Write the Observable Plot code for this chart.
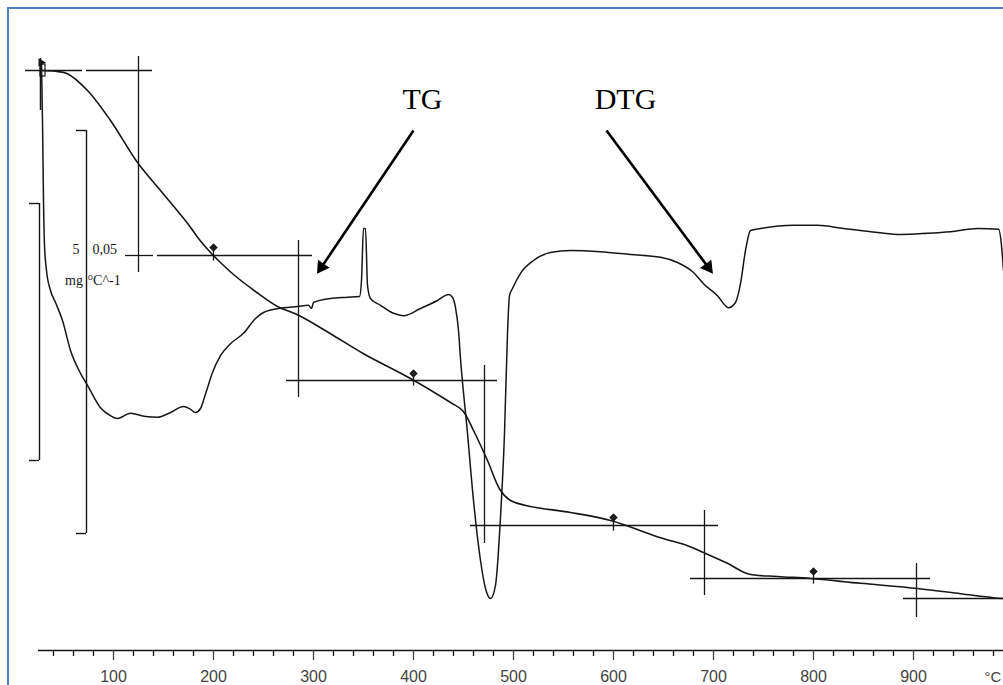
<!DOCTYPE html>
<html>
<head>
<meta charset="utf-8">
<script src="https://cdn.jsdelivr.net/npm/d3@7"></script>
<script src="https://cdn.jsdelivr.net/npm/@observablehq/plot@0.6"></script>
<style>
  body { margin: 0; background: #fff; }
  #wrap { position: relative; width: 1003px; height: 685px; overflow: hidden; background: #fff; }
  #border { position: absolute; left: 7px; top: 7px; width: 1200px; height: 900px;
            border-left: 2px solid #4f81bd; border-top: 2px solid #4f81bd; pointer-events: none; }
</style>
</head>
<body>
<div id="wrap"><div id="border"></div></div>
<script>
// ---- TG curve: temperature (°C) and mass loss (mg) ----
const tgTemp = [29, 42, 54, 74, 97, 124, 147, 174, 185, 197, 209, 220, 242, 264, 285, 317, 350, 397, 437, 449, 460, 474, 487, 497, 517, 557, 597, 647, 674, 690, 714, 734, 764, 797, 847, 904, 947, 980, 990];
const tgLoss = [0, 0.01, 0.04, 0.25, 0.625, 1.15, 1.5, 1.91, 2.1, 2.275, 2.425, 2.55, 2.7625, 2.95, 3.06, 3.29, 3.54, 3.85, 4.15, 4.25, 4.5, 4.875, 5.25, 5.375, 5.45, 5.525, 5.625, 5.84, 5.94, 6.025, 6.16, 6.29, 6.325, 6.35, 6.41, 6.475, 6.54, 6.59, 6.6];

// ---- DTG curve: temperature (°C) and derivative (µg/°C) ----
const dtgTemp = [28, 29, 30, 31, 33, 37, 42, 49, 57, 67, 74, 87, 97, 104, 117, 132, 144, 157, 170, 177, 182, 187, 191, 194, 199, 207, 217, 230, 242, 250, 270, 284, 295, 298, 300, 317, 334, 346, 348, 350, 352, 354, 357, 367, 380, 390, 407, 424, 435, 439, 442, 445, 447, 454, 460, 467, 472, 477, 482, 487, 491, 494, 496, 499, 507, 520, 537, 557, 587, 617, 647, 664, 680, 690, 704, 715, 722, 727, 732, 737, 747, 780, 804, 830, 864, 887, 914, 937, 964, 985, 988, 990];
const dtgRate = [20.5, 13.5, 3.5, -2.1, -5.25, -7.75, -9.25, -11.5, -15.25, -18.1, -19.6, -22.4, -23.4, -23.75, -23.1, -23.5, -23.6, -23, -22.25, -22.6, -23, -22.5, -21.1, -19.9, -18, -15.9, -14.4, -13.1, -11.25, -10.5, -9.9, -9.75, -9.6, -10, -9.25, -8.75, -8.6, -8.5, -6.5, 0, 0, -7.1, -8.75, -9.6, -10.6, -10.9, -10, -9, -8.25, -8.6, -9.9, -12.75, -16.25, -25.6, -34, -41.5, -45, -46.25, -44.6, -36.1, -25.6, -13.1, -8.4, -7.5, -5.6, -4, -3, -2.75, -2.9, -3.25, -3.6, -4.25, -5.5, -6.9, -8.4, -9.9, -9.25, -6.9, -2.75, -0.25, 0, 0.4, 0.4, 0, -0.5, -0.75, -0.6, -0.4, 0, -0.1, -2.1, -5.25];

// ---- step construction lines (mass levels and temperatures) ----
const stepLevel = [0, 0, 2.3125, 2.3125, 3.875, 5.6875, 6.35, 6.6];
const stepFrom  = [12, 73, 112, 144, 273, 457, 677, 890];
const stepTo    = [69, 139, 140, 299, 484, 705, 917, 990];
const vTemp = [125, 285, 471, 691, 903];
const vFrom = [-0.175, 2.125, 3.6875, 5.5, 6.1625];
const vTo   = [2.525, 4.0875, 5.9125, 6.5625, 6.8375];
const markTemp = [200, 400, 600, 800];
const markLoss = [2.2125, 3.7875, 5.5875, 6.2625];
const markLevel = [2.3125, 3.875, 5.6875, 6.35];

// ---- axis ticks ----
const majorTicks = [100, 200, 300, 400, 500, 600, 700, 800, 900];
const minorTicks = d3.range(40, 1000, 20).filter(t => t % 100 !== 0);

// ---- labels ----
const curveLabels = ["TG", "DTG"];
const labelTemp = [409, 612];
const arrowFromT = [400, 593];
const arrowToT = [308, 694.6];
const arrowAngle = [214, 143.4];

// DTG drawn on same vertical scale: 0.05 mg/°C == 5 mg, zero level at 1.975 mg
const dtgZero = 1.975;
const dtgToY = r => dtgZero - r / 10;

const tg = tgTemp.map((t, i) => ({t, y: tgLoss[i]}));
const dtg = dtgTemp.map((t, i) => ({t, y: dtgToY(dtgRate[i])}));
const hLines = stepLevel.map((y, i) => ({y, x1: stepFrom[i], x2: stepTo[i]}));
const vLines = vTemp.map((x, i) => ({x, y1: vFrom[i], y2: vTo[i]}));
const marks = markTemp.map((t, i) => ({t, y: markLoss[i], lvl: markLevel[i]}));
const arrows = curveLabels.map((s, i) => ({s, x1: arrowFromT[i], x2: arrowToT[i], y1: 0.75, y2: 2.458, a: arrowAngle[i], lx: labelTemp[i]}));

const ink = "#161616";
const serif = "Liberation Serif, Times New Roman, serif";
const sans = "Liberation Sans, Arial, sans-serif";

const chart = Plot.plot({
  width: 1003,
  height: 685,
  marginTop: 0, marginLeft: 0, marginRight: 0, marginBottom: 35,
  x: {domain: [-13, 990], axis: null},
  y: {domain: [-0.875, 7.25], reverse: true, axis: null},
  style: {background: "transparent", overflow: "visible"},
  marks: [
    // scale brackets
    Plot.ruleX([73], {y1: 0.75, y2: 5.7875, stroke: ink, strokeWidth: 1.4}),
    Plot.ruleY([0.75, 5.7875], {x1: 63, x2: 73, stroke: ink, strokeWidth: 1.4}),
    Plot.ruleX([26], {y1: 1.6625, y2: 4.875, stroke: ink, strokeWidth: 1.4}),
    Plot.ruleY([1.6625, 4.875], {x1: 16, x2: 26, stroke: ink, strokeWidth: 1.4}),
    Plot.text(["5"], {x: 66, y: 2.2875, text: d => d, textAnchor: "end", lineAnchor: "bottom", fontFamily: serif, fontSize: 14, fill: ink}),
    Plot.text(["0,05"], {x: 79, y: 2.2875, text: d => d, textAnchor: "start", lineAnchor: "bottom", fontFamily: serif, fontSize: 14, fill: ink}),
    Plot.text(["mg"], {x: 69.5, y: 2.675, text: d => d, textAnchor: "end", lineAnchor: "bottom", fontFamily: serif, fontSize: 14, fill: ink}),
    Plot.text(["°C^-1"], {x: 74, y: 2.675, text: d => d, textAnchor: "start", lineAnchor: "bottom", fontFamily: serif, fontSize: 14, fill: ink}),
    // construction lines
    Plot.ruleY(hLines, {y: "y", x1: "x1", x2: "x2", stroke: ink, strokeWidth: 1.3}),
    Plot.ruleX(vLines, {x: "x", y1: "y1", y2: "y2", stroke: ink, strokeWidth: 1.3}),
    Plot.ruleX(marks, {x: "t", y1: "y", y2: d => d.lvl + 0.07, stroke: ink, strokeWidth: 1.3}),
    Plot.dot(marks, {x: "t", y: "y", symbol: "diamond2", r: 3.4, fill: ink, stroke: ink, strokeWidth: 0.8}),
    // start marker
    Plot.ruleX([27], {y1: -0.15, y2: 0.5, stroke: ink, strokeWidth: 1.5}),
    Plot.rect([0], {x1: 27, x2: 32, y1: -0.075, y2: 0.075, fill: "none", stroke: ink, strokeWidth: 1.2}),
    Plot.dot([0], {x: 27.5, y: -0.1, symbol: "triangle", rotate: 90, r: 3.2, fill: ink}),
    // curves
    Plot.line(dtg, {x: "t", y: "y", stroke: ink, strokeWidth: 1.5, curve: "monotone-x"}),
    Plot.line(tg, {x: "t", y: "y", stroke: ink, strokeWidth: 1.6, curve: "catmull-rom"}),
    // arrows and labels
    Plot.link(arrows, {x1: "x1", y1: "y1", x2: "x2", y2: "y2", stroke: "#000", strokeWidth: 2.6}),
    Plot.dot(arrows, {x: "x2", y: "y2", symbol: "triangle", rotate: "a", r: 5.2, fill: "#000"}),
    Plot.text(arrows, {x: "lx", y: 0.475, text: "s", textAnchor: "middle", lineAnchor: "bottom", fontFamily: serif, fontSize: 30, fill: "#000"}),
    // temperature axis
    Plot.ruleY([7.25], {x1: 25, x2: 990, stroke: ink, strokeWidth: 1.5}),
    Plot.axisX(minorTicks, {anchor: "bottom", tickSize: 6, tickFormat: () => "", color: ink, strokeWidth: 1.3}),
    Plot.axisX(majorTicks, {anchor: "bottom", tickSize: 10, tickPadding: 10, tickFormat: d => String(d), color: "#444", fontSize: 16, fontFamily: sans, strokeWidth: 1.3}),
    Plot.text(["°C"], {x: 971, y: 7.25, dy: 31, text: d => d, textAnchor: "start", lineAnchor: "bottom", fontSize: 15, fontFamily: sans, fill: "#444"})
  ]
});
const wrap = document.getElementById("wrap");
wrap.insertBefore(chart, wrap.firstChild);
</script>
</body>
</html>
